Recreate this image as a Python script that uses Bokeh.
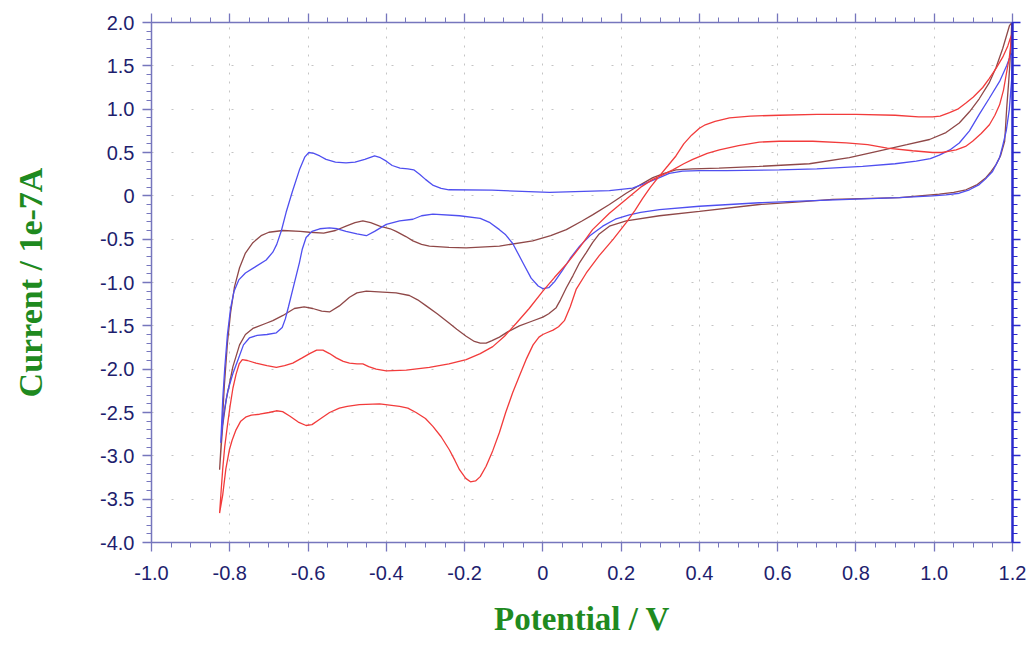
import numpy as np
from bokeh.plotting import figure
from bokeh.models import LinearAxis, FixedTicker, Range1d, CustomLabelingPolicy
from bokeh.embed import file_html
from bokeh.resources import INLINE

# ---------------- data ----------------
x_ticks = [-1.0, -0.8, -0.6, -0.4, -0.2, 0.0, 0.2, 0.4, 0.6, 0.8, 1.0, 1.2]
x_tick_labels = ["-1.0", "-0.8", "-0.6", "-0.4", "-0.2", "0", "0.2", "0.4", "0.6", "0.8", "1.0", "1.2"]
y_ticks = [-4.0, -3.5, -3.0, -2.5, -2.0, -1.5, -1.0, -0.5, 0.0, 0.5, 1.0, 1.5, 2.0]
y_tick_labels = ["-4.0", "-3.5", "-3.0", "-2.5", "-2.0", "-1.5", "-1.0", "-0.5", "0", "0.5", "1.0", "1.5", "2.0"]

blue_v = [-0.823, -0.818, -0.813, -0.806, -0.798, -0.789, -0.777, -0.760, -0.735, -0.707, -0.690, -0.680,
          -0.668, -0.656, -0.640, -0.622, -0.608, -0.598, -0.585, -0.570, -0.554, -0.530, -0.503, -0.480,
          -0.455, -0.430, -0.415, -0.400, -0.385, -0.365, -0.345, -0.330, -0.315, -0.300, -0.280, -0.260,
          -0.240, -0.130, 0.017, 0.170, 0.229, 0.260, 0.298, 0.323, 0.357, 0.400, 0.468, 0.604, 0.700,
          0.817, 0.900, 0.954, 0.990, 1.013, 1.040, 1.064, 1.090, 1.115, 1.140, 1.167, 1.185, 1.195, 1.200,
          1.198, 1.192, 1.184, 1.175, 1.167, 1.149, 1.130, 1.115, 1.090, 1.064, 1.030, 0.996, 0.911, 0.783,
          0.656, 0.553, 0.400, 0.298, 0.250, 0.221, 0.185, 0.153, 0.120, 0.094, 0.070, 0.050, 0.030, 0.015,
          0.000, -0.012, -0.030, -0.050, -0.077, -0.095, -0.111, -0.135, -0.160, -0.213, -0.281, -0.310,
          -0.332, -0.366, -0.400, -0.430, -0.451, -0.475, -0.503, -0.525, -0.545, -0.570, -0.590, -0.605,
          -0.615, -0.622, -0.639, -0.650, -0.658, -0.666, -0.681, -0.705, -0.730, -0.750, -0.765, -0.778,
          -0.792, -0.805, -0.815, -0.820, -0.823]
blue_i = [-2.85, -2.35, -2.00, -1.60, -1.30, -1.10, -0.97, -0.89, -0.82, -0.74, -0.65, -0.56,
          -0.40, -0.19, 0.05, 0.30, 0.45, 0.50, 0.49, 0.46, 0.42, 0.39, 0.38, 0.39,
          0.42, 0.46, 0.44, 0.40, 0.35, 0.32, 0.31, 0.30, 0.25, 0.19, 0.12, 0.085,
          0.07, 0.065, 0.04, 0.06, 0.09, 0.14, 0.21, 0.26, 0.285, 0.29, 0.29, 0.30, 0.31,
          0.34, 0.37, 0.40, 0.43, 0.47, 0.53, 0.61, 0.75, 0.94, 1.12, 1.32, 1.50, 1.62, 1.65,
          1.35, 1.00, 0.75, 0.58, 0.44, 0.28, 0.19, 0.13, 0.07, 0.03, 0.01, 0.00, -0.02, -0.04,
          -0.06, -0.08, -0.12, -0.16, -0.19, -0.22, -0.27, -0.35, -0.46, -0.58, -0.72, -0.86, -0.99, -1.06,
          -1.07, -1.04, -0.95, -0.78, -0.55, -0.45, -0.39, -0.31, -0.26, -0.23, -0.21, -0.23,
          -0.27, -0.29, -0.33, -0.41, -0.46, -0.44, -0.41, -0.38, -0.37, -0.38, -0.41, -0.48,
          -0.62, -0.77, -1.08, -1.28, -1.42, -1.52, -1.58, -1.60, -1.61, -1.64, -1.72, -1.88,
          -2.05, -2.25, -2.50, -2.70, -2.85]

brown_v = [-0.826, -0.820, -0.814, -0.806, -0.798, -0.788, -0.775, -0.760, -0.741, -0.720, -0.700, -0.664,
           -0.620, -0.596, -0.560, -0.530, -0.503, -0.480, -0.460, -0.440, -0.417, -0.390, -0.375, -0.350,
           -0.332, -0.310, -0.290, -0.240, -0.196, -0.111, -0.026, 0.020, 0.060, 0.100, 0.127, 0.170,
           0.213, 0.250, 0.281, 0.310, 0.340, 0.383, 0.450, 0.553, 0.681, 0.783, 0.860, 0.930, 0.988,
           1.030, 1.064, 1.090, 1.115, 1.140, 1.158, 1.175, 1.192, 1.198,
           1.196, 1.193, 1.190, 1.185, 1.180, 1.170, 1.158, 1.145, 1.132, 1.110, 1.081, 1.050, 1.013, 0.911,
           0.740, 0.656, 0.553, 0.400, 0.298, 0.213, 0.170, 0.144, 0.127, 0.110, 0.094, 0.077, 0.060, 0.045,
           0.034, 0.015, 0.000, -0.030, -0.060, -0.090, -0.111, -0.130, -0.145, -0.160, -0.175, -0.196,
           -0.220, -0.239, -0.270, -0.298, -0.320, -0.341, -0.375, -0.409, -0.451, -0.475, -0.494, -0.520,
           -0.545, -0.565, -0.588, -0.610, -0.635, -0.664, -0.690, -0.707, -0.741, -0.760, -0.775, -0.792,
           -0.809, -0.818, -0.822, -0.826]
brown_i = [-3.16, -2.70, -2.20, -1.70, -1.35, -1.05, -0.83, -0.66, -0.54, -0.46, -0.42, -0.40,
           -0.41, -0.42, -0.43, -0.40, -0.35, -0.31, -0.29, -0.31, -0.35, -0.38, -0.41, -0.47,
           -0.52, -0.56, -0.58, -0.595, -0.60, -0.58, -0.52, -0.46, -0.39, -0.29, -0.22, -0.10,
           0.03, 0.13, 0.21, 0.26, 0.30, 0.31, 0.32, 0.34, 0.37, 0.44, 0.52, 0.59, 0.65,
           0.73, 0.84, 0.97, 1.12, 1.30, 1.48, 1.70, 1.96, 2.00,
           1.75, 1.50, 1.30, 1.00, 0.63, 0.47, 0.36, 0.28, 0.21, 0.13, 0.07, 0.04, 0.02, -0.02,
           -0.04, -0.07, -0.10, -0.18, -0.23, -0.29, -0.35, -0.44, -0.54, -0.66, -0.77, -0.92, -1.06, -1.20,
           -1.29, -1.36, -1.40, -1.45, -1.50, -1.57, -1.63, -1.67, -1.70, -1.70, -1.68, -1.62,
           -1.54, -1.47, -1.36, -1.27, -1.20, -1.15, -1.12, -1.11, -1.10, -1.12, -1.17, -1.27,
           -1.34, -1.33, -1.30, -1.28, -1.30, -1.38, -1.44, -1.47, -1.53, -1.60, -1.72, -1.97,
           -2.35, -2.65, -2.90, -3.16]

red_v = [-0.826, -0.822, -0.818, -0.813, -0.806, -0.799, -0.792, -0.784, -0.776, -0.768, -0.755, -0.733,
         -0.705, -0.681, -0.660, -0.639, -0.615, -0.596, -0.578, -0.562, -0.545, -0.528, -0.510, -0.494,
         -0.475, -0.460, -0.445, -0.426, -0.400, -0.349, -0.290, -0.240, -0.196, -0.160, -0.128, -0.098,
         -0.068, -0.035, 0.000, 0.030, 0.060, 0.095, 0.127, 0.170, 0.213, 0.250, 0.281, 0.310, 0.332,
         0.360, 0.383, 0.420, 0.451, 0.500, 0.553, 0.604, 0.690, 0.775, 0.830, 0.880, 0.945, 0.996,
         1.020, 1.056, 1.080, 1.098, 1.120, 1.141, 1.155, 1.167, 1.177, 1.184, 1.192, 1.197, 1.199,
         1.193, 1.188, 1.175, 1.158, 1.140, 1.124, 1.100, 1.081, 1.060, 1.039, 1.015, 0.996, 0.960, 0.900,
         0.800, 0.700, 0.604, 0.530, 0.477, 0.440, 0.415, 0.400, 0.380, 0.360, 0.340, 0.320, 0.298, 0.275,
         0.255, 0.235, 0.213, 0.180, 0.144, 0.111, 0.085, 0.070, 0.055, 0.040, 0.026, 0.010, 0.000, -0.010,
         -0.025, -0.043, -0.060, -0.077, -0.095, -0.111, -0.128, -0.145, -0.160, -0.172, -0.185, -0.197,
         -0.213, -0.225, -0.239, -0.260, -0.281, -0.300, -0.324, -0.345, -0.366, -0.417, -0.469, -0.500,
         -0.520, -0.545, -0.571, -0.590, -0.605, -0.625, -0.647, -0.665, -0.681, -0.700, -0.724, -0.745,
         -0.758, -0.772, -0.784, -0.794, -0.801, -0.810, -0.818, -0.826]
red_i = [-3.66, -3.40, -3.15, -2.90, -2.65, -2.42, -2.22, -2.06, -1.94, -1.89, -1.90, -1.93,
         -1.96, -1.98, -1.96, -1.93, -1.87, -1.82, -1.78, -1.78, -1.82, -1.87, -1.91, -1.93,
         -1.94, -1.94, -1.97, -2.00, -2.02, -2.01, -1.98, -1.94, -1.89, -1.82, -1.74, -1.62,
         -1.47, -1.30, -1.10, -0.94, -0.79, -0.59, -0.39, -0.20, -0.04, 0.10, 0.19, 0.25, 0.30,
         0.37, 0.42, 0.49, 0.53, 0.58, 0.62, 0.63, 0.63, 0.61, 0.59, 0.55, 0.52, 0.50,
         0.50, 0.53, 0.57, 0.63, 0.72, 0.82, 0.93, 1.05, 1.22, 1.40, 1.60, 1.80, 1.87,
         1.80, 1.73, 1.60, 1.47, 1.35, 1.25, 1.14, 1.07, 1.00, 0.96, 0.92, 0.91, 0.91, 0.93,
         0.94, 0.94, 0.93, 0.92, 0.90, 0.86, 0.82, 0.78, 0.70, 0.60, 0.46, 0.35, 0.23, 0.10,
         -0.03, -0.17, -0.31, -0.50, -0.69, -0.89, -1.08, -1.28, -1.44, -1.51, -1.55, -1.58, -1.60, -1.63,
         -1.72, -1.89, -2.08, -2.27, -2.50, -2.73, -2.94, -3.12, -3.24, -3.29, -3.30, -3.26,
         -3.16, -3.05, -2.93, -2.78, -2.66, -2.57, -2.50, -2.45, -2.43, -2.40, -2.41, -2.43,
         -2.45, -2.50, -2.58, -2.64, -2.65, -2.61, -2.54, -2.49, -2.48, -2.50, -2.52, -2.53,
         -2.55, -2.60, -2.70, -2.82, -2.93, -3.15, -3.45, -3.66]

# ---------------- figure ----------------
AXIS_COLOR = "#7676bd"
LABEL_COLOR = "#1e1e6e"
TITLE_COLOR = "#1f8a1f"

x_minor = [round(-1.0 + 0.05 * k, 3) for k in range(45)]
y_minor = [round(-4.0 + 0.1 * k, 3) for k in range(61)]

p = figure(width=1028, height=646, x_range=Range1d(-1.0, 1.2), y_range=Range1d(-4.0, 2.0),
           output_backend="svg", toolbar_location=None,
           min_border_left=151, min_border_right=16, min_border_top=22, min_border_bottom=104)
p.outline_line_color = None
p.background_fill_color = "white"
p.border_fill_color = "white"

xt = FixedTicker(ticks=x_ticks, minor_ticks=x_minor)
yt = FixedTicker(ticks=y_ticks, minor_ticks=y_minor)

hide_all = CustomLabelingPolicy(code="""
for (const i of indices) { indices.unset(i) }
return indices
""")


def style_axis(ax, ticker, labels, show_labels, line_color=AXIS_COLOR, line_width=1.5):
    ax.ticker = ticker
    ax.axis_line_color = line_color
    ax.axis_line_width = line_width
    ax.major_tick_line_color = line_color
    ax.minor_tick_line_color = line_color
    ax.major_tick_line_width = 1.3
    ax.minor_tick_line_width = 1
    ax.major_tick_out = 9
    ax.major_tick_in = 0
    ax.minor_tick_out = 5
    ax.minor_tick_in = 0
    if show_labels:
        ax.major_label_overrides = dict(zip(ticker.ticks, labels))
        ax.major_label_text_font = "Liberation Sans"
        ax.major_label_text_font_size = "20px"
        ax.major_label_text_color = LABEL_COLOR
    else:
        ax.major_label_policy = hide_all
        ax.major_label_text_font_size = "0px"
        ax.major_label_standoff = 0


xa = p.xaxis[0]
style_axis(xa, xt, x_tick_labels, True)
xa.major_label_standoff = 14
xa.axis_label = "Potential / V"
xa.axis_label_text_font = "Liberation Serif"
xa.axis_label_text_font_style = "bold"
xa.axis_label_text_font_size = "33px"
xa.axis_label_text_color = TITLE_COLOR
xa.axis_label_standoff = 18

ya = p.yaxis[0]
style_axis(ya, yt, y_tick_labels, True)
ya.major_label_standoff = 8
ya.axis_label = "Current / 1e-7A"
ya.axis_label_text_font = "Liberation Serif"
ya.axis_label_text_font_style = "bold"
ya.axis_label_text_font_size = "34px"
ya.axis_label_text_color = TITLE_COLOR
ya.axis_label_standoff = 48

top = LinearAxis()
style_axis(top, xt, x_tick_labels, False)
p.add_layout(top, "above")

right = LinearAxis()
style_axis(right, yt, y_tick_labels, False, line_color="#2a2acc", line_width=2.5)
right.major_tick_out = 8
right.minor_tick_out = 5
p.add_layout(right, "right")

p.xgrid.ticker = xt
p.ygrid.ticker = yt
p.xgrid.grid_line_color = "#c4c4c4"
p.ygrid.grid_line_color = "#c4c4c4"
p.xgrid.grid_line_dash = "2 7"
p.ygrid.grid_line_dash = "2 18"
p.xgrid.grid_line_width = 1
p.ygrid.grid_line_width = 1

p.line(brown_v, brown_i, line_color="#8f4848", line_width=1.3)
p.line(blue_v, blue_i, line_color="#4f4ff0", line_width=1.3)
p.line(red_v, red_i, line_color="#f23b3b", line_width=1.3)

open("out.html", "w").write(file_html(p, INLINE))
